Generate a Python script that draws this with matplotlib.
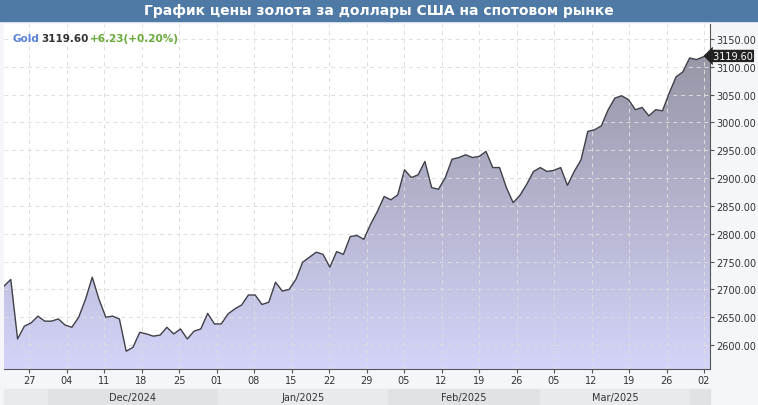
import matplotlib
matplotlib.use("Agg")
import matplotlib.pyplot as plt
import numpy as np
from matplotlib.patches import Rectangle
from matplotlib.colors import LinearSegmentedColormap

values = [2706,2718,2611,2634,2640,2652,2643,2643,2647,2636,2632,2650,2682,2722,2682,2650,2652,2647,2589,2596,
          2623,2620,2616,2618,2632,2620,2629,2611,2625,2629,2657,2638,2638,2656,2665,2672,2690,2690,2673,2677,
          2713,2697,2700,2718,2749,2758,2767,2763,2740,2768,2763,2795,2797,2790,2817,2840,2867,2861,2870,2915,
          2901,2906,2930,2883,2880,2901,2934,2937,2942,2937,2939,2948,2919,2919,2883,2856,2869,2889,2912,2919,
          2912,2914,2919,2887,2912,2933,2984,2987,2994,3023,3044,3048,3041,3023,3027,3012,3023,3021,3053,3082,
          3091,3116,3113,3118,3119.6]
week_labels = ["27","04","11","18","25","01","08","15","22","29","05","12","19","26","05","12","19","26","02"]
months = ["Dec/2024","Jan/2025","Feb/2025","Mar/2025"]
yticks = [2600,2650,2700,2750,2800,2850,2900,2950,3000,3050,3100,3150]
last_price = 3119.60

W, H = 758, 406
fig = plt.figure(figsize=(W/100, H/100), dpi=100)
fig.patch.set_facecolor("#f4f6fa")
fig.patches.append(Rectangle((0, 1-22/H), 1, 22/H, transform=fig.transFigure, color="#4f7aa6", zorder=0))
fig.text(0.5, 1-11/H, "График цены золота за доллары США на спотовом рынке", ha="center", va="center",
         color="white", fontsize=10, fontweight="bold", family="DejaVu Sans")

L, R, T, B = 4, 710, 25, 370
ax = fig.add_axes([L/W, 1-B/H, (R-L)/W, (B-T)/H])
n = len(values)
x = np.arange(n)
ax.set_xlim(0, n-1)
ax.set_ylim(2557, 3177)
grad = np.linspace(0, 1, 256).reshape(-1, 1)
cmap = LinearSegmentedColormap.from_list("g", ["#d4d4fa", "#9696a6"])
im = ax.imshow(grad, aspect="auto", cmap=cmap, extent=[0, n-1, 2557, 3130], origin="lower", zorder=1)
poly = ax.fill_between(x, values, 2557, color="none")
im.set_clip_path(poly.get_paths()[0], transform=ax.transData)
ax.plot(x, values, color="#404048", lw=1.0, zorder=3)

def tickpos(k):
    return (29 + 37.5*k - L) / (R - L) * (n - 1)
ax.set_xticks([tickpos(k) for k in range(len(week_labels))])
ax.set_xticklabels(week_labels, fontsize=7, color="#333333")
ax.yaxis.tick_right()
ax.set_yticks(yticks)
ax.set_yticklabels([f"{v:.2f}" for v in yticks], fontsize=7, color="#333333")
ax.tick_params(length=3, color="#555555", pad=1.5)
ax.grid(True, ls=(0, (4, 4)), color="#dddddd", lw=0.7, zorder=0)
for s in ["top", "left"]:
    ax.spines[s].set_visible(False)
ax.spines["right"].set_color("#555555")
ax.spines["bottom"].set_color("#555555")
ax.set_facecolor("white")

ax.text(n-1, last_price, f" {last_price:.2f}", transform=ax.transData, ha="left", va="center",
        fontsize=7, color="white", bbox=dict(boxstyle="larrow,pad=0.12", fc="#222222", ec="none"), zorder=5,
        clip_on=False)
ax.text(0.012, 0.975, "Gold", transform=ax.transAxes, color="#5b82d6", fontsize=7.5, fontweight="bold", va="top")
ax.text(0.053, 0.975, f"{last_price:.2f}", transform=ax.transAxes, color="#333333", fontsize=7.5, fontweight="bold", va="top")
ax.text(0.122, 0.975, "+6.23(+0.20%)", transform=ax.transAxes, color="#6aaa3a", fontsize=7.5, fontweight="bold", va="top")

band_y, band_h = 1-406/H, 16/H
edges = [4, 48, 218, 388, 540, 690, 710]
cols = ["#e8eaee", "#e0e2e6", "#e8eaee", "#e0e2e6", "#e8eaee", "#e0e2e6"]
for i in range(len(edges)-1):
    fig.patches.append(Rectangle((edges[i]/W, band_y), (edges[i+1]-edges[i])/W, band_h,
                                 transform=fig.transFigure, color=cols[i], zorder=0))
for i, m in enumerate(months):
    cx = (edges[i+1] + edges[i+2]) / 2 / W
    fig.text(cx, band_y + band_h/2, m, ha="center", va="center", fontsize=7, color="#333333")

fig.savefig("out.png", dpi=100, facecolor=fig.get_facecolor())
